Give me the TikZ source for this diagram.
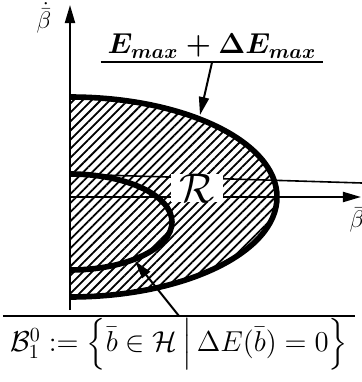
\documentclass[tikz,border=0pt]{standalone}
\usepackage{amsmath}
\usetikzlibrary{arrows.meta,patterns.meta}

\begin{document}
\begin{tikzpicture}[x=0.5pt, y=0.5pt,
  axis/.style={line width=1pt, -{Triangle[length=9pt, width=5pt]}},
  bound/.style={line width=2.8pt},
  hatch/.style={pattern={Lines[angle=45, distance=3.2pt, line width=0.9pt]}},
  pointer/.style={line width=1pt, -{Triangle[length=9pt, width=5pt]}},
  rule/.style={line width=1pt}
]
\useasboundingbox (0,0) rectangle (362,382);
% hatched region R and the two level sets
\fill[hatch] (70,285) arc[start angle=90, end angle=-90, x radius=207, y radius=100] -- cycle;
\draw[bound] (70,208) arc[start angle=90, end angle=-90, x radius=102, y radius=48];
\draw[bound] (70,285) arc[start angle=90, end angle=-90, x radius=207, y radius=100];
\draw[line width=0.8pt] (70,208) -- (362,199);
\draw[axis] (70,72) -- (70,377);
\draw[axis] (70,185) -- (361,185);
\node[font=\large] (ydot) at (44,364) {$\dot{\bar\beta}$};
\node[font=\large] (xlab) at (357,162) {$\bar\beta$};
\node[fill=white, inner xsep=4pt, inner ysep=0pt, font=\huge] (region) at (197,194) {$\mathcal{R}$};
% labels with pointers
\coordinate (tipA) at (200,267);
\coordinate (tipB) at (135,121);
\node[font=\fontsize{13.6}{16}\selectfont\boldmath, minimum width=105pt, inner ysep=2pt] (emax) at (212,336) {$E_{max}+\Delta E_{max}$};
\draw[rule] (emax.south west) -- (emax.south east);
\draw[pointer] (emax.south) -- (tipA);
\node[font=\Large, minimum width=169pt, inner ysep=1pt, anchor=north] (zeroset) at (179,66)
  {$\mathcal{B}_1^0 := \Big\{\bar b \in \mathcal{H} \,\Big|\, \Delta E(\bar b) = 0\Big\}$};
\draw[rule] (zeroset.north west) -- (zeroset.north east);
\draw[pointer] (zeroset.north) -- (tipB);
\end{tikzpicture}
\end{document}
